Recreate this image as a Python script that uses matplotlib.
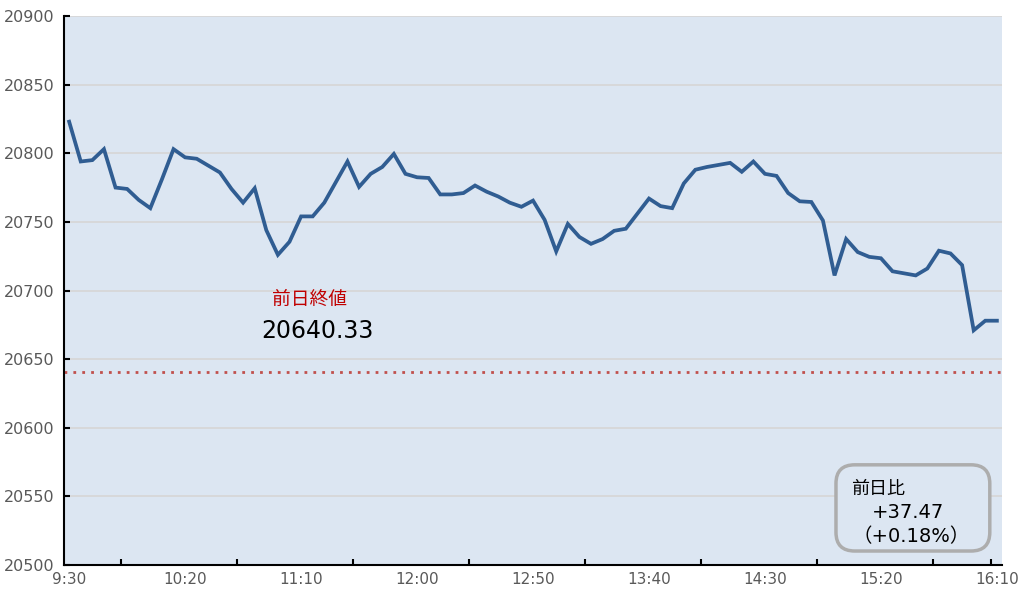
import matplotlib.pyplot as plt
from matplotlib.patches import FancyBboxPatch

plt.rcParams['font.family'] = ['DejaVu Sans', 'Noto Sans CJK JP']

# 5-minute intervals from 9:30 to 16:10
step_min = 5
prices = [
    20823, 20794, 20795, 20803, 20775, 20774, 20766, 20760, 20781, 20803,
    20797, 20796, 20791, 20786, 20774, 20764, 20774.5, 20744, 20726, 20735.5,
    20754, 20754, 20764, 20779, 20794, 20775.5, 20785, 20790, 20799.5, 20785,
    20782.5, 20782, 20770, 20770, 20771, 20776.5, 20772, 20768.5, 20764, 20761,
    20765.5, 20751.5, 20728.5, 20748.5, 20739, 20734, 20737.5, 20743.5, 20745, 20756,
    20767, 20761.5, 20760, 20778, 20788, 20790, 20791.5, 20793, 20786.5, 20794,
    20785, 20783.5, 20771, 20765, 20764.5, 20751, 20711, 20737.5, 20728, 20724.5,
    20723.5, 20714, 20712.5, 20711, 20716, 20729, 20727, 20718.5, 20671, 20678,
    20678,
]
prev_close = 20640.33
diff = 37.47
diff_pct = 0.18

tick_labels = ['9:30', '10:20', '11:10', '12:00', '12:50', '13:40', '14:30', '15:20', '16:10']
y_ticks = list(range(20500, 20901, 50))

minutes = [i * step_min for i in range(len(prices))]

fig = plt.figure(figsize=(10.28, 5.95), dpi=100)
ax = fig.add_axes([0.0623, 0.0504, 0.9124, 0.9227])
ax.set_facecolor('#dce6f2')

# grid
for yv in y_ticks[1:]:
    ax.axhline(yv, color='#d6d6d6', lw=1.2, zorder=1)

ax.axhline(prev_close, color='#c0504d', lw=2, linestyle=(0, (1, 2.2)), zorder=2)
ax.plot(minutes, prices, color='#305d92', lw=2.7, zorder=3, solid_joinstyle='miter')

ax.set_xlim(-2.2, 402.2)
ax.set_ylim(20500, 20900)
ax.set_yticks(y_ticks)
ax.set_xticks([i * 50 for i in range(len(tick_labels))])
ax.set_xticklabels(tick_labels)
ax.set_xticks([22.5 + 50 * k for k in range(8)] + [397.5], minor=True)

ax.tick_params(axis='x', which='major', length=0, pad=5, labelsize=11, labelcolor='#595959')
ax.tick_params(axis='x', which='minor', length=4, width=1.5, direction='in', color='black')
ax.tick_params(axis='y', length=4, width=1.5, direction='in', pad=7, labelsize=11.5, labelcolor='#595959')

for s in ['top', 'right']:
    ax.spines[s].set_visible(False)
for s in ['left', 'bottom']:
    ax.spines[s].set_linewidth(1.5)
    ax.spines[s].set_color('black')

# previous close label
ax.text(0.262, 0.483, '前日終値', transform=ax.transAxes, color='#c00000',
        fontsize=13.5, ha='center', va='center')
ax.text(0.27, 0.427, f'{prev_close:.2f}', transform=ax.transAxes, color='black',
        fontsize=17, ha='center', va='center')

# change box
box = FancyBboxPatch((0.823, 0.0255), 0.164, 0.157, transform=ax.transAxes,
                     boxstyle='round,pad=0,rounding_size=0.02',
                     facecolor='#dce6f2', edgecolor='#adadad', lw=2.5,
                     mutation_aspect=1.7, zorder=4)
ax.add_patch(box)
ax.text(0.839, 0.139, '前日比', transform=ax.transAxes, fontsize=13,
        ha='left', va='center', zorder=5)
ax.text(0.861, 0.095, f'+{diff:.2f}', transform=ax.transAxes, fontsize=14,
        ha='left', va='center', zorder=5)
ax.text(0.841, 0.051, f'（+{diff_pct:.2f}%）', transform=ax.transAxes, fontsize=14,
        ha='left', va='center', zorder=5)

fig.savefig('out.png', dpi=100)
